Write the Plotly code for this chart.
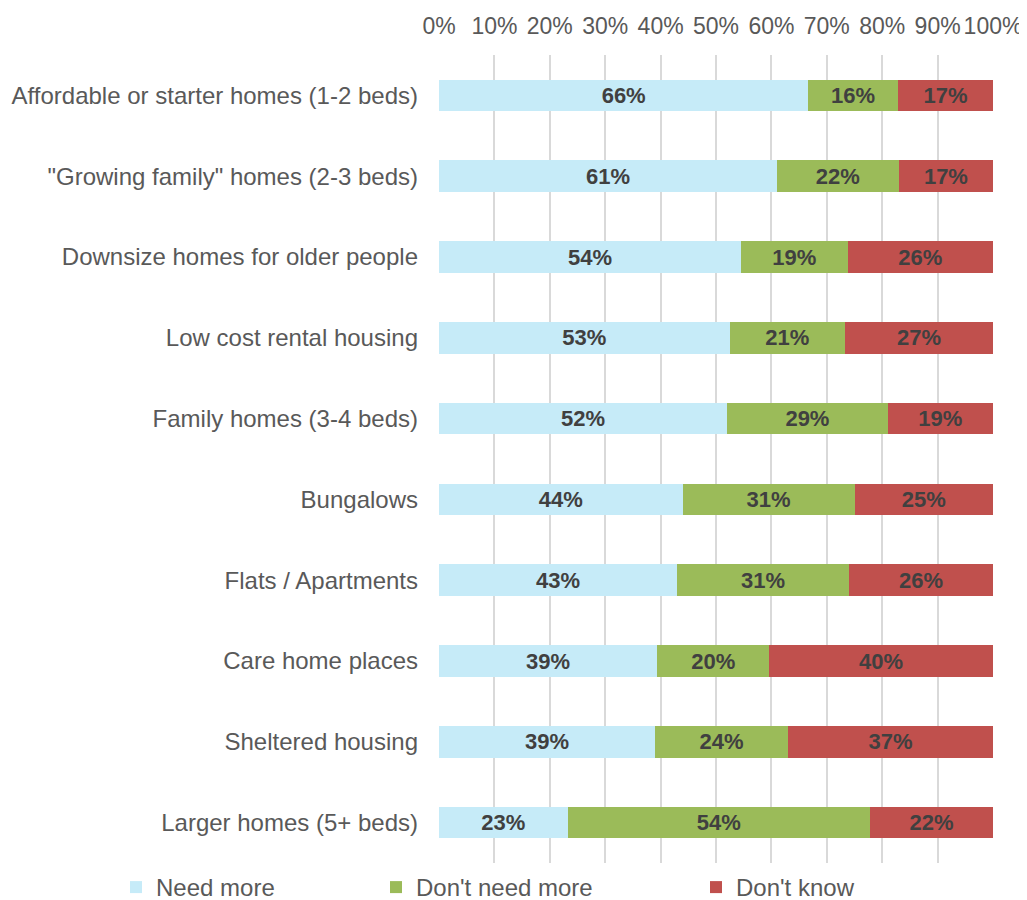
import plotly.graph_objects as go

categories = [
    "Affordable or starter homes (1-2 beds)",
    "\"Growing family\" homes (2-3 beds)",
    "Downsize homes for older people",
    "Low cost rental housing",
    "Family homes (3-4 beds)",
    "Bungalows",
    "Flats / Apartments",
    "Care home places",
    "Sheltered housing",
    "Larger homes (5+ beds)",
]
need_more = [66, 61, 54, 53, 52, 44, 43, 39, 39, 23]
dont_need = [16, 22, 19, 21, 29, 31, 31, 20, 24, 54]
dont_know = [17, 17, 26, 27, 19, 25, 26, 40, 37, 22]
series_names = ["Need more", "Don't need more", "Don't know"]
colors = ["#C6EBF8", "#9BBB59", "#C0504D"]
tick_vals = [0, 10, 20, 30, 40, 50, 60, 70, 80, 90, 100]
tick_text = [f"{v}%" for v in tick_vals]

FONT = "Liberation Sans, Arial, sans-serif"
W, H = 1019, 904
legend_ids = ["legend", "legend2", "legend3"]
legend_x = [108, 368, 688]

fig = go.Figure()
for name, vals, col, lid in zip(series_names, [need_more, dont_need, dont_know], colors, legend_ids):
    fig.add_trace(go.Bar(
        y=categories, x=vals, name=name, orientation="h",
        marker=dict(color=col, line=dict(width=0)),
        text=[f"{v}%" for v in vals], textposition="inside",
        insidetextanchor="middle",
        textfont=dict(family=FONT, size=22, color="#404040", weight="bold"),
        constraintext="none", legend=lid,
    ))

layout_legends = {}
for lid, lx in zip(legend_ids, legend_x):
    layout_legends[lid] = dict(
        orientation="h", xref="container", yref="container",
        x=lx / W, xanchor="left", y=(H - 857) / H, yanchor="top",
        font=dict(family=FONT, size=24, color="#595959"),
        bgcolor="rgba(0,0,0,0)", itemwidth=30,
    )

fig.update_layout(
    barmode="stack", barnorm="percent", bargap=0.61,
    width=W, height=H,
    margin=dict(l=431, r=34, t=47, b=H - 855),
    plot_bgcolor="white", paper_bgcolor="white",
    font=dict(family=FONT, size=23, color="#595959"),
    xaxis=dict(side="top", range=[0, 100], tickvals=tick_vals, ticktext=tick_text,
               showgrid=True, gridcolor="#D9D9D9", gridwidth=2, zeroline=False,
               showline=False, ticks="", ticklabelstandoff=15, automargin=False,
               tickfont=dict(family=FONT, size=23, color="#595959")),
    yaxis=dict(categoryorder="array", categoryarray=categories[::-1],
               showline=False, ticks="", ticklabelstandoff=20, automargin=False,
               tickfont=dict(family=FONT, size=24, color="#595959")),
    showlegend=True,
    **layout_legends,
)

fig.write_html("out.html")
